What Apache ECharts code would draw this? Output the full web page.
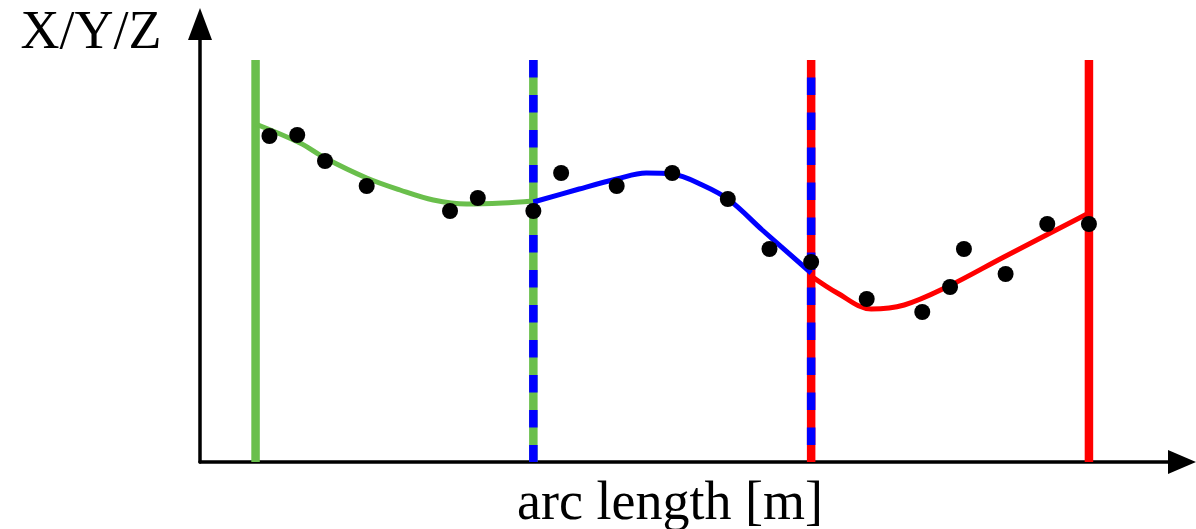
<!DOCTYPE html>
<html>
<head>
<meta charset="UTF-8" />
<title>arc length</title>
<script type="text/javascript" src="https://cdn.jsdelivr.net/npm/echarts@6/dist/echarts.min.js"></script>
<style>
  html, body { margin: 0; padding: 0; background: #fff; }
  #main { width: 1196px; height: 529px; }
</style>
</head>
<body>
<div id="main"></div>
<script>
// measured points (arc length, value)
var dotX = [1.05, 1.15, 1.25, 1.40, 1.70, 1.80, 2.00, 2.10, 2.30, 2.50, 2.70, 2.85, 3.00, 3.20, 3.40, 3.50, 3.55, 3.70, 3.85, 4.00];
var dotY = [3.26, 3.27, 3.01, 2.76, 2.51, 2.64, 2.51, 2.89, 2.76, 2.89, 2.63, 2.13, 2.00, 1.63, 1.50, 1.75, 2.13, 1.88, 2.38, 2.38];

// fitted segments
var greenX = [1.00, 1.16, 1.25, 1.40, 1.52, 1.64, 1.76, 1.89, 2.00];
var greenY = [3.38, 3.19, 3.04, 2.84, 2.72, 2.62, 2.58, 2.59, 2.61];
var blueX = [2.00, 2.165, 2.30, 2.406, 2.50, 2.608, 2.705, 2.824, 3.00];
var blueY = [2.60, 2.73, 2.83, 2.89, 2.88, 2.77, 2.62, 2.32, 1.89];
var redX = [3.00, 3.094, 3.216, 3.335, 3.489, 3.694, 4.00];
var redY = [1.86, 1.69, 1.53, 1.57, 1.75, 2.05, 2.49];

// knots
var knots = [1, 2, 3, 4];
var knotTop = 4.02;

var GREEN = '#6abf4c', BLUE = '#0000ff', RED = '#ff0000';

function pairs(xs, ys) {
    var out = [];
    for (var i = 0; i < xs.length; i++) out.push([xs[i], ys[i]]);
    return out;
}

function knotLine(x, color, z) {
    return {
        type: 'line', z: z, symbol: 'none', silent: true,
        data: [[x, knotTop], [x, 0]],
        lineStyle: { color: color, width: 8.5, cap: 'butt' }
    };
}
function knotDash(x, color, offset) {
    return {
        type: 'line', z: 2, symbol: 'none', silent: true,
        data: [[x, knotTop], [x, 0]],
        lineStyle: { color: color, width: 8.5, type: [17.5, 17.5], dashOffset: offset, cap: 'butt' }
    };
}
function curve(xs, ys, color) {
    return {
        type: 'line', z: 3, symbol: 'none', smooth: 0.35, silent: true,
        data: pairs(xs, ys),
        lineStyle: { color: color, width: 5 }
    };
}

var myChart = echarts.init(document.getElementById('main'));
myChart.setOption({
    animation: false,
    backgroundColor: '#fff',
    grid: { left: 200, right: 14, top: 24, bottom: 67 },
    xAxis: {
        type: 'value', min: 0.8, max: 4.335,
        axisLine: { show: true, onZero: false, symbol: ['none', 'triangle'], symbolSize: [24, 28],
            lineStyle: { color: '#000', width: 3.5 } },
        axisTick: { show: false }, axisLabel: { show: false }, splitLine: { show: false }
    },
    yAxis: {
        type: 'value', min: 0, max: 4.38,
        axisLine: { show: true, onZero: false, symbol: ['none', 'triangle'], symbolSize: [24, 32],
            lineStyle: { color: '#000', width: 3.5 } },
        axisTick: { show: false }, axisLabel: { show: false }, splitLine: { show: false }
    },
    graphic: [
        { type: 'text', x: 91, y: 34, style: { text: 'X/Y/Z', font: '54px "Liberation Serif"', fill: '#000', align: 'center', verticalAlign: 'middle' } },
        { type: 'text', x: 670, y: 505, style: { text: 'arc length [m]', font: '54px "Liberation Serif"', fill: '#000', align: 'center', verticalAlign: 'middle' } }
    ],
    series: [
        knotLine(knots[0], GREEN, 1),
        knotLine(knots[1], GREEN, 1),
        knotDash(knots[1], BLUE, 0),
        knotLine(knots[2], RED, 1),
        knotDash(knots[2], BLUE, 17.5),
        knotLine(knots[3], RED, 1),
        curve(greenX, greenY, GREEN),
        curve(blueX, blueY, BLUE),
        curve(redX, redY, RED),
        {
            type: 'scatter', z: 4, symbol: 'circle', symbolSize: 16,
            itemStyle: { color: '#000', opacity: 1 },
            data: pairs(dotX, dotY)
        }
    ]
});
</script>
</body>
</html>
